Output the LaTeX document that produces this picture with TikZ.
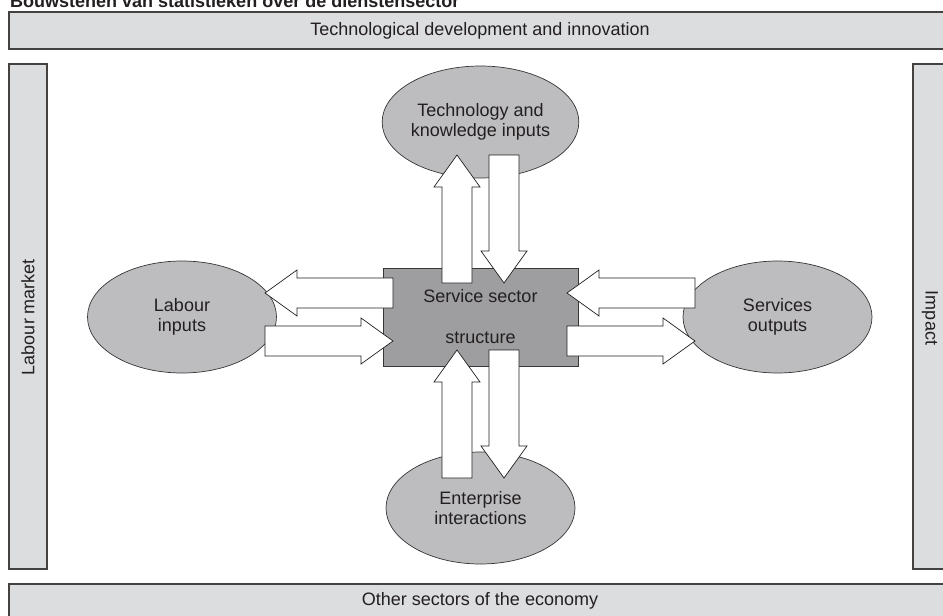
\documentclass[tikz,border=0pt]{standalone}
\usepackage{fontspec}
\setmainfont{Liberation Sans}
\usetikzlibrary{calc,shapes.geometric}
\definecolor{boxgray}{HTML}{DCDDDF}
\definecolor{ellgray}{HTML}{BDBDBF}
\definecolor{coregray}{HTML}{9E9EA0}
\definecolor{ink}{HTML}{231F20}

% block arrow from #1 to #2: shaft 30pt wide, head 46pt wide and 32pt long
\newcommand\blockarrow[2]{%
  \path ($(#2)!32pt!(#1)$) coordinate (hb);
  \draw[barrow] ($(#1)!15pt!90:(#2)$) -- ($(hb)!15pt!90:(#2)$)
    -- ($(hb)!23pt!90:(#2)$) -- (#2) -- ($(hb)!23pt!-90:(#2)$)
    -- ($(hb)!15pt!-90:(#2)$) -- ($(#1)!15pt!-90:(#2)$) -- cycle;}

\begin{document}
\begin{tikzpicture}[x=1pt,y=-1pt,
  txt/.style={font=\fontsize{18}{20}\selectfont, text=ink, align=center, inner sep=0pt},
  frame/.style={draw=ink!85, line width=1.2pt, fill=boxgray},
  bubble/.style={ellipse, draw=ink!90, line width=0.7pt, fill=ellgray,
    minimum width=189pt, minimum height=112pt, inner sep=0pt, txt},
  corebox/.style={rectangle, draw=ink!90, line width=0.7pt, fill=coregray,
    minimum width=195pt, minimum height=98pt, inner sep=0pt, txt},
  barrow/.style={draw=ink, fill=white, line width=0.7pt, line join=miter}]
\useasboundingbox (0,0) rectangle (943,616);
\clip (0,0) rectangle (943,616);
\fill[white] (0,0) rectangle (943,616);

% heading
\node[txt, anchor=base west, font=\fontsize{18}{20}\selectfont\bfseries] (head)
  at (10,7) {Bouwstenen van statistieken over de dienstensector};

% surrounding frames
\path[frame] (9,12) rectangle (951,49);
\node[txt] (techdev) at (480,30.5) {Technological development and innovation};
\path[frame] (9,584) rectangle (951,630);
\node[txt] (others) at (480,600.5) {Other sectors of the economy};
\path[frame] (9,64) rectangle (47,569);
\node[txt, rotate=90] (labmarket) at (28,317) {Labour market};
\path[frame] (913,64) rectangle (951,569);
\node[txt, rotate=-90] (impact) at (930,318) {Impact};

% inputs, outputs and the sector itself
\node[bubble] (tech) at (480.5,122) {Technology and\\knowledge inputs};
\node[bubble] (labour) at (182,317) {Labour\\inputs};
\node[bubble] (serv) at (777.5,317) {Services\\outputs};
\node[bubble] (ent) at (480.5,508) {Enterprise\\interactions};
\node[corebox] (core) at (480.5,317) {Service sector\\[21pt]structure};

% arrow end points
\coordinate (tu0) at (457,283);  \coordinate (tu1) at (457,155);
\coordinate (td0) at (504,155);  \coordinate (td1) at (504,283);
\coordinate (eu0) at (457,478);  \coordinate (eu1) at (457,350);
\coordinate (ed0) at (504,350);  \coordinate (ed1) at (504,478);
\coordinate (ll0) at (393,293);  \coordinate (ll1) at (265,293);
\coordinate (lr0) at (265,341);  \coordinate (lr1) at (393,341);
\coordinate (sl0) at (695,293);  \coordinate (sl1) at (567,293);
\coordinate (sr0) at (567,341);  \coordinate (sr1) at (695,341);

\blockarrow{tu0}{tu1}
\blockarrow{td0}{td1}
\blockarrow{eu0}{eu1}
\blockarrow{ed0}{ed1}
\blockarrow{ll0}{ll1}
\blockarrow{lr0}{lr1}
\blockarrow{sl0}{sl1}
\blockarrow{sr0}{sr1}
\end{tikzpicture}
\end{document}
